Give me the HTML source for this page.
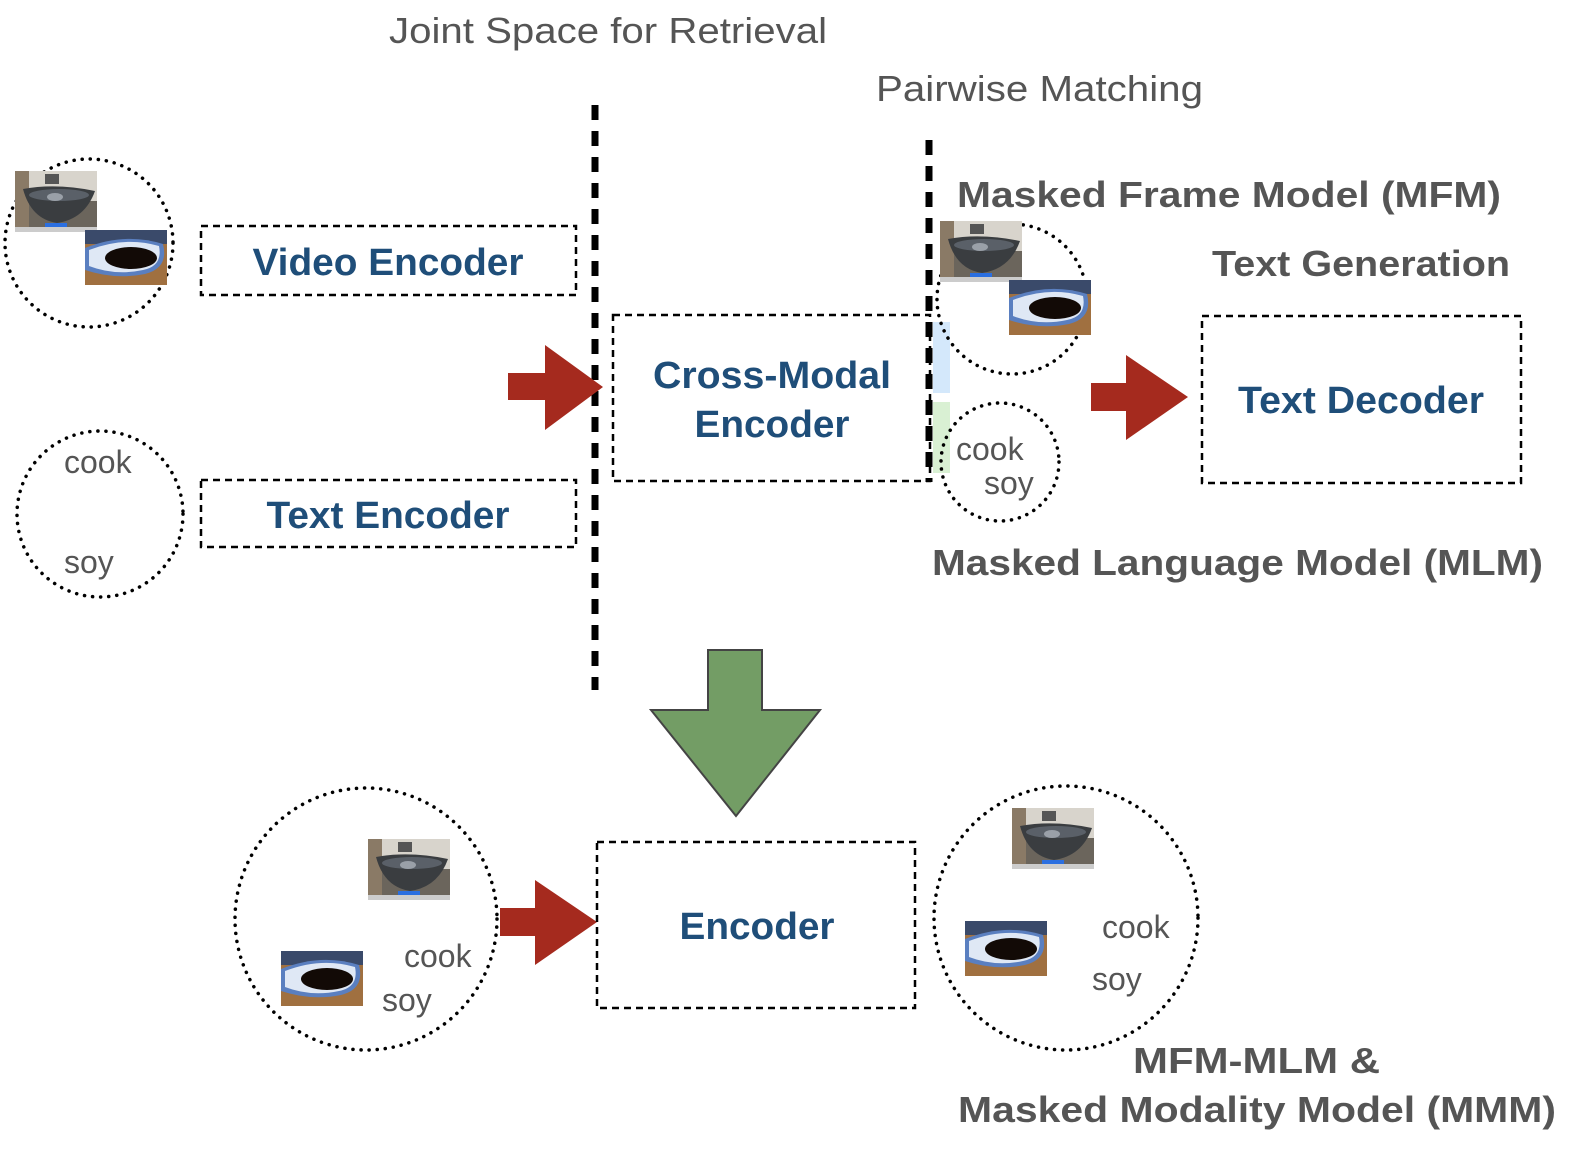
<!DOCTYPE html>
<html><head><meta charset="utf-8"><style>
html,body{margin:0;padding:0;background:#fff;}
svg{display:block;}
text{font-family:"Liberation Sans",Arial,sans-serif;}
.g{fill:#555;font-size:36px;}
.gb{fill:#555;font-size:36px;font-weight:bold;}
.b{fill:#1f4e79;font-size:38px;font-weight:bold;}
.w{fill:#555;font-size:32px;}
.box{fill:none;stroke:#000;stroke-width:2.5;stroke-dasharray:7 5;}
.cir{fill:none;stroke:#000;stroke-width:3.5;stroke-dasharray:0.1 8;stroke-linecap:round;}
.vl{stroke:#000;stroke-width:7;stroke-dasharray:15 11;}
</style></head><body>
<svg width="1584" height="1158" viewBox="0 0 1584 1158" xmlns="http://www.w3.org/2000/svg">
<defs>
<g id="wok">
<rect width="82" height="61" fill="#6b655c"/>
<rect x="0" y="0" width="82" height="30" fill="#d8d4cc"/>
<rect x="0" y="0" width="14" height="61" fill="#8a7a66"/>
<path d="M8 18 Q41 12 80 20 Q70 48 42 52 Q16 48 8 18Z" fill="#3a3d40"/>
<ellipse cx="44" cy="24" rx="30" ry="6" fill="#5a6068"/>
<ellipse cx="40" cy="26" rx="8" ry="4" fill="#9aa0a8"/>
<rect x="30" y="3" width="14" height="10" fill="#555"/>
<rect x="30" y="52" width="22" height="5" fill="#2b6fe0"/>
<rect x="0" y="56" width="82" height="5" fill="#ccc"/>
</g>
<g id="soy">
<rect width="82" height="55" fill="#a07040"/>
<rect x="0" y="0" width="82" height="14" fill="#3a4a6a"/>
<path d="M0 18 Q40 2 78 14 Q84 38 60 44 Q30 50 0 40Z" fill="#5a7fc0"/>
<path d="M4 20 Q40 6 74 16 Q78 36 58 40 Q30 46 4 36Z" fill="#dfe8f5"/>
<ellipse cx="46" cy="28" rx="26" ry="11" fill="#120a06"/>
</g>
</defs>

<!-- titles -->
<text class="g" x="608" y="43" text-anchor="middle" textLength="438" lengthAdjust="spacingAndGlyphs">Joint Space for Retrieval</text>
<text class="g" x="876" y="101" textLength="327" lengthAdjust="spacingAndGlyphs">Pairwise Matching</text>

<!-- vertical dashed lines -->
<line class="vl" x1="595" y1="105" x2="595" y2="690"/>
<line class="vl" x1="929" y1="140" x2="929" y2="482"/>

<!-- left circles -->
<circle class="cir" cx="89" cy="243" r="84"/>
<use href="#wok" x="15" y="171"/>
<use href="#soy" x="85" y="230"/>
<circle class="cir" cx="100" cy="514" r="83"/>
<text class="w" x="64" y="473">cook</text>
<text class="w" x="64" y="573">soy</text>

<!-- encoders -->
<rect class="box" x="201" y="226" width="375" height="69"/>
<text class="b" x="388" y="275" text-anchor="middle" textLength="271" lengthAdjust="spacingAndGlyphs">Video Encoder</text>
<rect class="box" x="201" y="480" width="375" height="67"/>
<text class="b" x="388" y="528" text-anchor="middle" textLength="243" lengthAdjust="spacingAndGlyphs">Text Encoder</text>

<!-- red arrow 1 -->
<polygon points="508,373 545,373 545,345 603,387 545,430 545,400 508,400" fill="#a52a1e"/>

<!-- cross modal -->
<rect class="box" x="613" y="315" width="317" height="166"/>
<text class="b" x="772" y="388" text-anchor="middle" textLength="238" lengthAdjust="spacingAndGlyphs">Cross-Modal</text>
<text class="b" x="772" y="437" text-anchor="middle" textLength="155" lengthAdjust="spacingAndGlyphs">Encoder</text>

<rect x="933" y="322" width="17" height="71" fill="#d4e8fb"/>
<rect x="933" y="402" width="17" height="71" fill="#d9f0d3"/>

<!-- right circles -->
<circle class="cir" cx="1012" cy="299" r="75"/>
<use href="#wok" x="940" y="221"/>
<use href="#soy" x="1009" y="280"/>
<circle class="cir" cx="1000" cy="462" r="59"/>
<text class="w" x="956" y="460">cook</text>
<text class="w" x="984" y="494">soy</text>

<text class="gb" x="957" y="207" textLength="544" lengthAdjust="spacingAndGlyphs">Masked Frame Model (MFM)</text>
<text class="gb" x="1212" y="276" textLength="298" lengthAdjust="spacingAndGlyphs">Text Generation</text>
<text class="gb" x="932" y="575" textLength="611" lengthAdjust="spacingAndGlyphs">Masked Language Model (MLM)</text>

<!-- red arrow 2 -->
<polygon points="1091,383 1126,383 1126,355 1188,397 1126,440 1126,411 1091,411" fill="#a52a1e"/>

<rect class="box" x="1202" y="316" width="319" height="167"/>
<text class="b" x="1361" y="413" text-anchor="middle" textLength="246" lengthAdjust="spacingAndGlyphs">Text Decoder</text>

<!-- green arrow -->
<polygon points="708,650 762,650 762,710 820,710 736,816 651,710 708,710" fill="#739d65" stroke="#444" stroke-width="2"/>

<!-- bottom -->
<circle class="cir" cx="366" cy="919" r="131"/>
<use href="#wok" x="368" y="839"/>
<use href="#soy" x="281" y="951"/>
<text class="w" x="404" y="967">cook</text>
<text class="w" x="382" y="1011">soy</text>

<polygon points="500,908 535,908 535,880 597,922 535,965 535,936 500,936" fill="#a52a1e"/>

<rect class="box" x="597" y="842" width="318" height="166"/>
<text class="b" x="757" y="939" text-anchor="middle" textLength="155" lengthAdjust="spacingAndGlyphs">Encoder</text>

<circle class="cir" cx="1066" cy="918" r="132"/>
<use href="#wok" x="1012" y="808"/>
<use href="#soy" x="965" y="921"/>
<text class="w" x="1102" y="938">cook</text>
<text class="w" x="1092" y="990">soy</text>

<text class="gb" x="1133" y="1073" textLength="247" lengthAdjust="spacingAndGlyphs">MFM-MLM &amp;</text>
<text class="gb" x="958" y="1122" textLength="598" lengthAdjust="spacingAndGlyphs">Masked Modality Model (MMM)</text>
</svg>
</body></html>
